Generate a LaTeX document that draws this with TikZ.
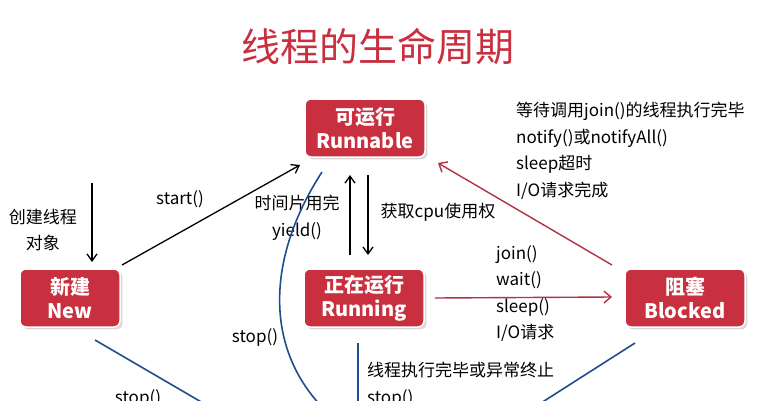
\documentclass[tikz,border=0pt]{standalone}
\usepackage{fontspec}
\setmainfont{Carlito}
\newfontfamily\cjk{Noto Sans CJK SC}
\usetikzlibrary{arrows.meta,shadows}
\definecolor{boxred}{HTML}{C8303F}
\definecolor{arrred}{HTML}{B03243}
\definecolor{lineblue}{HTML}{1F4E8C}
\begin{document}
\begin{tikzpicture}[x=1pt,y=-1pt,
  state/.style={draw=white,line width=1.5pt,fill=boxred,rounded corners=6pt,minimum width=120pt,minimum height=58pt,text=white,font=\cjk\bfseries\fontsize{20}{24}\selectfont,align=center,drop shadow={opacity=0.3}},
  lbl/.style={font=\cjk\fontsize{17}{26.5}\selectfont,align=left,inner sep=0pt},
  blk/.style={-{Straight Barb[length=7pt,width=10pt]},line width=1.3pt,black},
  redarr/.style={-{Straight Barb[length=7pt,width=12pt]},line width=1.4pt,arrred},
  blu/.style={line width=1.6pt,lineblue}]
\useasboundingbox[fill=white] (0,0) rectangle (758,400);
\node[font=\cjk\fontsize{39}{42}\selectfont,text=boxred] (title) at (378,47) {线程的生命周期};
\node[state] (run) at (365,128) {可运行\\Runnable};
\node[state,minimum width=100pt] (new) at (70,298) {新建\\New};
\node[state] (ring) at (364,298) {正在运行\\Running};
\node[state] (blk) at (685,298) {阻塞\\Blocked};
\node[lbl,align=center] (create) at (43,230) {创建线程\\对象};
\coordinate (c1) at (92,183); \coordinate (c2) at (92,262);
\draw[blk] (c1) -- (c2);
\coordinate (s1) at (122,265); \coordinate (s2) at (300,165);
\draw[blk] (s1) -- (s2);
\node[lbl] (start) at (180,199) {start()};
\coordinate (u1) at (350,255); \coordinate (u2) at (350,175);
\coordinate (d1) at (368,175); \coordinate (d2) at (368,255);
\draw[blk] (u1) -- (u2);
\draw[blk] (d1) -- (d2);
\node[lbl,align=center] (yield) at (297,218) {时间片用完\\yield()};
\node[lbl] (cpu) at (438,212) {获取cpu使用权};
\coordinate (b1) at (612,297);
\draw[redarr] (ring.east) ++(10,0) coordinate (r1) -- (b1);
\node[lbl,anchor=north west] (jw) at (496,245) {join()\\wait()\\sleep()\\I/O请求};
\coordinate (k1) at (612,265); \coordinate (k2) at (438,163);
\draw[redarr] (k1) -- (k2);
\node[lbl,anchor=north west] (notify) at (516,102) {等待调用join()的线程执行完毕\\notify()或notifyAll()\\sleep超时\\I/O请求完成};
\coordinate (n1) at (95,340); \coordinate (n2) at (215,410);
\draw[blu] (n1) -- (n2);
\node[lbl] (stop1) at (138,398) {stop()};
\coordinate (m1) at (358,343); \coordinate (m2) at (358,410);
\draw[blu] (m1) -- (m2);
\node[lbl,anchor=west] (fin) at (367,370) {线程执行完毕或异常终止};
\node[lbl,anchor=west] (stop2) at (367,398) {stop()};
\coordinate (q1) at (635,343); \coordinate (q2) at (530,410);
\draw[blu] (q1) -- (q2);
\coordinate (p1) at (322,172); \coordinate (p2) at (325,410);
\draw[blu] (p1) .. controls (265,260) and (265,350) .. (p2);
\node[lbl] (stop3) at (255,337) {stop()};
\end{tikzpicture}
\end{document}
